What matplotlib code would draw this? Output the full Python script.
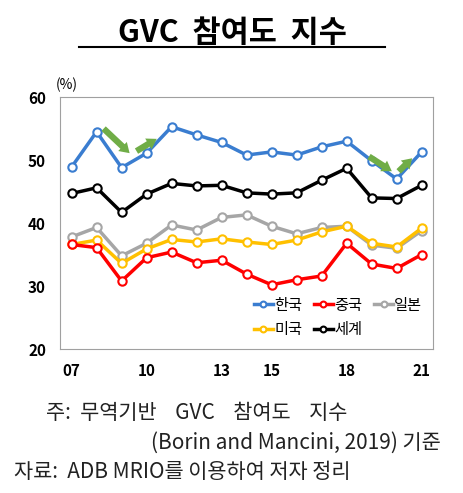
import matplotlib.pyplot as plt

plt.rcParams['font.family'] = ['Noto Sans CJK KR', 'DejaVu Sans']

years = list(range(2007, 2022))
korea = [48.9, 54.5, 48.8, 51.1, 55.3, 54.0, 52.8, 50.8, 51.3, 50.8, 52.1, 53.0, 49.9, 47.0, 51.3]
china = [36.6, 36.1, 30.8, 34.5, 35.4, 33.7, 34.1, 31.9, 30.2, 31.0, 31.6, 36.8, 33.5, 32.8, 35.0]
japan = [37.8, 39.3, 34.8, 36.8, 39.7, 38.9, 40.9, 41.3, 39.5, 38.3, 39.3, 39.5, 36.5, 36.0, 38.8]
usa = [36.6, 37.3, 33.6, 35.9, 37.4, 37.0, 37.5, 37.0, 36.6, 37.3, 38.6, 39.5, 36.8, 36.2, 39.2]
world = [44.7, 45.6, 41.7, 44.6, 46.3, 45.9, 46.0, 44.8, 44.6, 44.8, 46.8, 48.7, 44.0, 43.9, 46.0]
tick_years = [2007, 2010, 2013, 2015, 2018, 2021]
tick_labels = ['07', '10', '13', '15', '18', '21']

fig = plt.figure(figsize=(4.64, 4.93), dpi=100)
ax = fig.add_axes([0.129, 0.292, 0.804, 0.511])

series = [
    (japan, '#a6a6a6', '일본'),
    (usa, '#ffc000', '미국'),
    (china, '#ff0000', '중국'),
    (world, '#000000', '세계'),
    (korea, '#3a7dd0', '한국'),
]
handles = {}
for vals, col, name in series:
    h, = ax.plot(years, vals, color=col, lw=2.5, marker='o', ms=6,
                 mfc='white', mec=col, mew=1.5, label=name)
    handles[name] = h

# green trend arrows
arrows = [((2008.2, 55.3), (2009.4, 50.8)), ((2009.5, 51.2), (2010.5, 53.6)),
          ((2018.8, 50.8), (2019.9, 48.0)), ((2020.0, 47.9), (2020.7, 50.6))]
for start, end in arrows:
    ax.annotate('', xy=end, xytext=start,
                arrowprops=dict(arrowstyle='simple,head_width=0.9,head_length=0.7,tail_width=0.45',
                                color='#70ad47', lw=0))

ax.set_xlim(2006.53, 2021.45)
ax.set_ylim(20, 60)
ax.set_yticks([20, 30, 40, 50, 60])
ax.set_xticks(tick_years)
ax.set_xticklabels(tick_labels)
ax.tick_params(length=0, labelsize=11, pad=10)
for lab in ax.get_xticklabels() + ax.get_yticklabels():
    lab.set_fontweight('bold')
for sp in ax.spines.values():
    sp.set_color('#a0a0a0')
ax.text(-0.01, 1.02, '(%)', transform=ax.transAxes, fontsize=10, ha='left', va='bottom')

# matplotlib fills legend columns first
order = ['한국', '미국', '중국', '세계', '일본']
ax.legend([handles[n] for n in order], order, loc='lower right', ncol=3,
          frameon=False, fontsize=11, handlelength=1.2, handletextpad=0.1,
          columnspacing=0.8, borderaxespad=0.3, markerscale=0.7)

fig.text(0.5, 0.915, 'GVC  참여도  지수', ha='center', fontsize=22, fontweight='bold')
fig.add_artist(plt.Line2D([0.17, 0.83], [0.905, 0.905], color='black', lw=1.5))

fs = 15
fig.text(0.1, 0.15, '주:  무역기반    GVC    참여도    지수', fontsize=fs, color='#222222')
fig.text(0.95, 0.09, '(Borin and Mancini, 2019) 기준', fontsize=fs, ha='right', color='#222222')
fig.text(0.03, 0.03, '자료:  ADB MRIO를 이용하여 저자 정리', fontsize=fs, color='#222222')

fig.savefig('out.png', dpi=100)
